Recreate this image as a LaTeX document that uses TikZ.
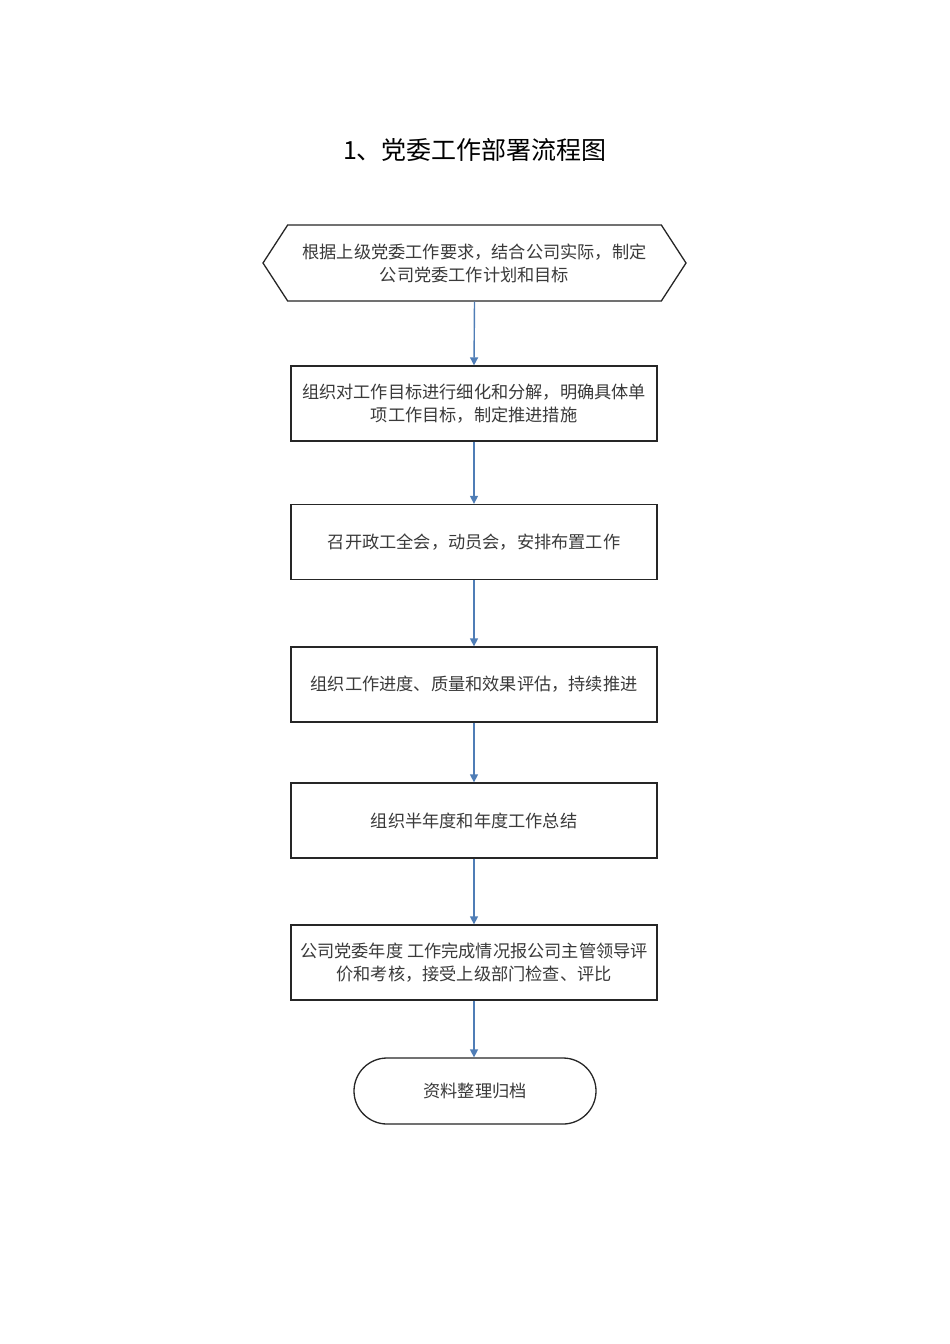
\documentclass[tikz,border=0pt]{standalone}
\usepackage{fontspec}
\newfontfamily\cjk{Noto Sans CJK SC}
\usetikzlibrary{arrows.meta,shapes.symbols,shapes.misc}
\definecolor{inkText}{HTML}{3A3A3A}
\definecolor{boxEdge}{HTML}{262626}
\definecolor{flowBlue}{HTML}{4F7DB6}

\begin{document}
\begin{tikzpicture}[
  x=1pt, y=-1pt,
  font=\cjk\fontsize{17.2}{23}\selectfont,
  box/.style={
    rectangle, draw=boxEdge, line width=1.3pt, fill=white,
    align=center, text=inkText, inner sep=4pt,
    minimum width=366pt, minimum height=75pt},
  plan/.style={box, signal, signal to=west and east,
    signal pointer angle=114, minimum width=423pt, minimum height=76pt},
  term/.style={box, rounded rectangle, minimum width=250pt, minimum height=66pt},
  flow/.style={-{Triangle[length=8pt,width=8pt]}, line width=1.4pt, draw=flowBlue},
  heading/.style={font=\cjk\fontsize{25}{29}\selectfont, text=black, inner sep=0pt},
]
\useasboundingbox (0,0) rectangle (950,1344);

% =============================== nodes =====================================
\node[heading] at (475,150)   (title)  {1、党委工作部署流程图};

\node[plan]    at (474.5,263) (goal)   {根据上级党委工作要求，结合公司实际，制定\\
  公司党委工作计划和目标};

\node[box]     at (474,403.5) (split)  {组织对工作目标进行细化和分解，明确具体单\\
  项工作目标，制定推进措施};

\node[box]     at (474,542)   (meet)   {召开政工全会，动员会，安排布置工作};

\node[box]     at (474,684.5) (assess) {组织工作进度、质量和效果评估，持续推进};

\node[box]     at (474,820.5) (review) {组织半年度和年度工作总结};

\node[box]     at (474,962.5) (report) {公司党委年度 工作完成情况报公司主管领导评\\
  价和考核，接受上级部门检查、评比};

\node[term]    at (475,1091)  (archive) {资料整理归档};

% =============================== flows =====================================
\draw[flow] (goal.south)   -- (split.north);
\draw[flow] (split.south)  -- (meet.north);
\draw[flow] (meet.south)   -- (assess.north);
\draw[flow] (assess.south) -- (review.north);
\draw[flow] (review.south) -- (report.north);
\draw[flow] (report.south) -- (report.south |- archive.north);

\end{tikzpicture}
\end{document}
